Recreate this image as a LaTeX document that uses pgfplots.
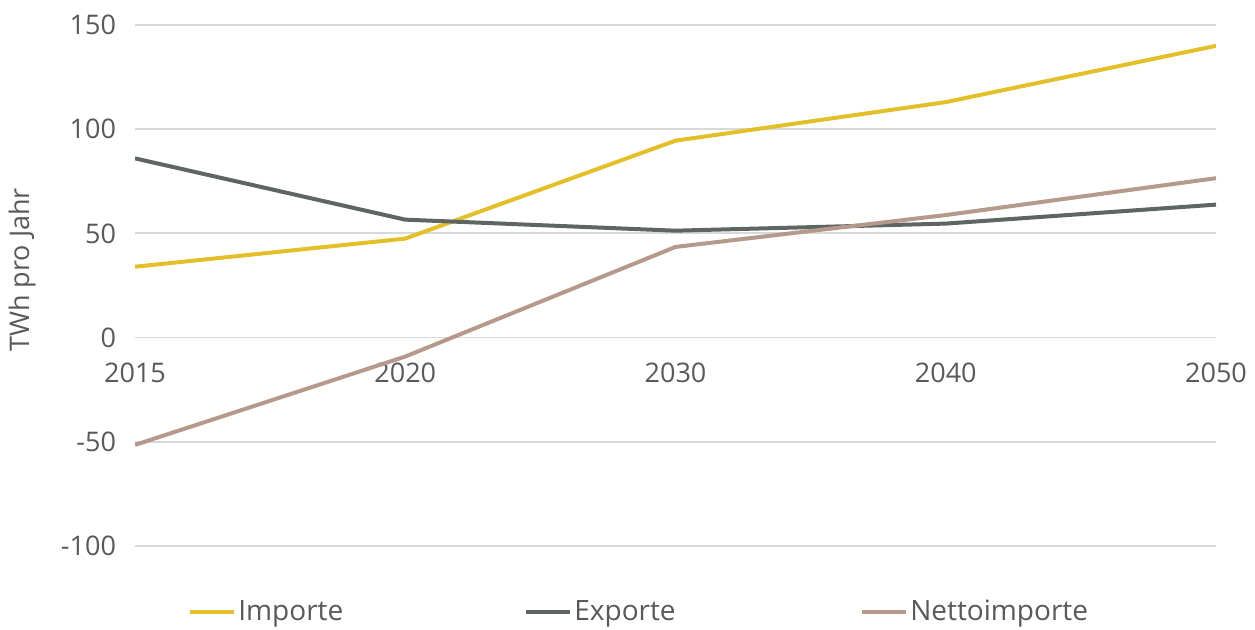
\documentclass[border=0pt]{standalone}
\usepackage{fontspec}
\setmainfont{Open Sans}
\usepackage{pgfplots}
\pgfplotsset{compat=1.18}
\definecolor{imp}{HTML}{E3C02A}
\definecolor{exp}{HTML}{5E6563}
\definecolor{net}{HTML}{B59A8B}
\definecolor{gridc}{HTML}{D9D9D9}
\definecolor{txt}{HTML}{595959}
\begin{document}
\begin{tikzpicture}
\path[use as bounding box] (-67.5bp,-42bp) rectangle (560bp,273bp);
\begin{axis}[
  scale only axis,
  width=540.5bp, height=260.5bp,
  xmin=0, xmax=4, ymin=-100, ymax=150,
  axis x line*=middle, axis y line*=left,
  axis line style={draw=none},
  tick style={draw=none},
  hide obscured x ticks=false, hide obscured y ticks=false,
  xtick={0,1,2,3,4},
  xticklabels={2015,2020,2030,2040,2050},
  ytick={-100,-50,0,50,100,150},
  ymajorgrids,
  grid style={gridc, line width=0.9bp},
  /pgf/number format/assume math mode=true,
  ticklabel style={font=\fontsize{13.5bp}{16bp}\selectfont, text=txt},
  xticklabel style={yshift=-9bp},
  yticklabel style={xshift=-6bp},
  ylabel={TWh pro Jahr},
  every axis y label/.style={at={(axis description cs:-0.1045,0.53)}, rotate=90, anchor=center, font=\fontsize{13.5bp}{16bp}\selectfont, text=txt},
  legend columns=3,
  legend style={at={(axis description cs:0.049,-0.127)}, anchor=west, draw=none, fill=none, inner sep=0pt,
    nodes={font=\fontsize{14bp}{16bp}\selectfont, text=txt, text width=142bp, align=left, inner xsep=1bp},
    /tikz/every even column/.append style={column sep=0pt}},
  legend image code/.code={\draw[#1] (0bp,0bp) -- (22bp,0bp);},
]
\addplot[imp, line width=2bp] coordinates {(0,34) (1,47.5) (2,94.5) (3,113) (4,140)};
\addlegendentry{Importe}
\addplot[exp, line width=2bp] coordinates {(0,86) (1,56.6) (2,51.3) (3,54.7) (4,63.8)};
\addlegendentry{Exporte}
\addplot[net, line width=2bp] coordinates {(0,-51.5) (1,-9.1) (2,43.5) (3,58.8) (4,76.5)};
\addlegendentry{Nettoimporte}
\end{axis}
\end{tikzpicture}
\end{document}
